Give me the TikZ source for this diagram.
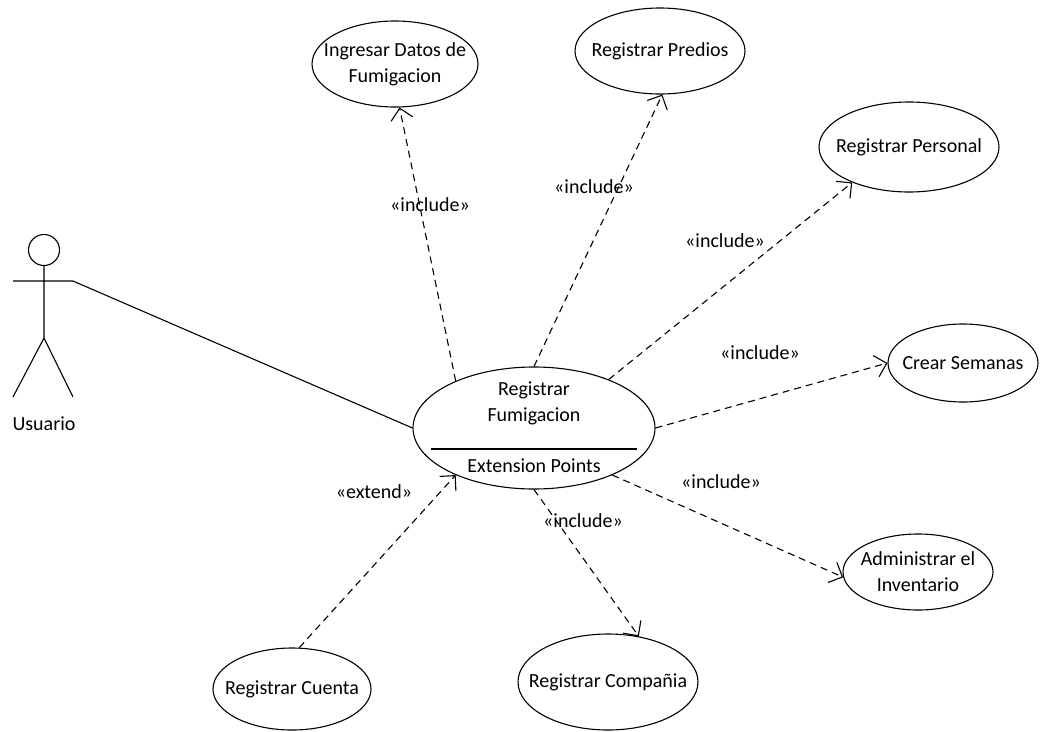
\documentclass[tikz,border=0pt]{standalone}
\usepackage{fontspec}
\setmainfont{Carlito}
\usetikzlibrary{shapes.geometric,arrows.meta}
\begin{document}
\begin{tikzpicture}[x=1pt,y=-1pt,
  every node/.style={font=\fontsize{20}{26}\selectfont, align=center},
  uc/.style={draw, ellipse, line width=1.1pt, inner sep=0pt},
  ucname/.style={label={[align=center]center:#1}},
  assoc/.style={line width=1.1pt},
  dep/.style={line width=1.1pt, dash pattern=on 7pt off 5pt,
    -{Straight Barb[length=11pt,width=22pt,line width=1.1pt]}},
  stereo/.style={inner sep=1pt}]
\useasboundingbox (0,0) rectangle (1041,731);

% actor
\draw[line width=1.1pt] (44,250) circle (15.5);
\draw[line width=1.1pt] (44,265.5) -- (44,338)
  (13,281) -- (73,281)
  (13,397) -- (44,338) -- (73,397);
\coordinate (hand) at (73,281);
\node (usr) at (44,424) {Usuario};

% use cases
\node[uc, minimum width=242pt, minimum height=122pt] (main) at (534,428) {};
\node (mainname) at (534,403) {Registrar\\Fumigacion};
\draw[line width=1.1pt] (431,449) -- (637,449);
\node (ext) at (534,466) {Extension Points};

\node[uc, minimum width=166pt, minimum height=86pt,
  ucname={Ingresar Datos de\\Fumigacion}] (ing) at (395,64) {};
\node[uc, minimum width=170pt, minimum height=86pt,
  ucname={Registrar Predios}] (pred) at (660,51) {};
\node[uc, minimum width=180pt, minimum height=90pt,
  ucname={Registrar Personal}] (pers) at (909,147) {};
\node[uc, minimum width=150pt, minimum height=78pt,
  ucname={Crear Semanas}] (sem) at (963,363) {};
\node[uc, minimum width=150pt, minimum height=76pt,
  ucname={Administrar el\\Inventario}] (inv) at (918,572) {};
\node[uc, minimum width=180pt, minimum height=96pt,
  ucname={Registrar Compañia}] (comp) at (608,682) {};
\node[uc, minimum width=158pt, minimum height=82pt,
  ucname={Registrar Cuenta}] (cta) at (292,689) {};

% associations and dependencies
\draw[assoc] (hand) -- (main.180);
\draw[dep] (main.149) -- (ing.-84);
\draw[dep] (main.90) -- (pred.-87);
\draw[dep] (main.33) -- (pers.212);
\draw[dep] (main.0) -- (sem.180);
\draw[dep] (main.-31) -- (inv.184);
\draw[dep] (main.-90) -- (comp.56);
\draw[dep] (cta.80) -- (main.211);

% stereotypes
\node[stereo] (s1) at (430,205) {«include»};
\node[stereo] (s2) at (594,187) {«include»};
\node[stereo] (s3) at (725,241) {«include»};
\node[stereo] (s4) at (760,353) {«include»};
\node[stereo] (s5) at (721,482) {«include»};
\node[stereo] (s6) at (583,521) {«include»};
\node[stereo] (s7) at (374,492) {«extend»};
\end{tikzpicture}
\end{document}
